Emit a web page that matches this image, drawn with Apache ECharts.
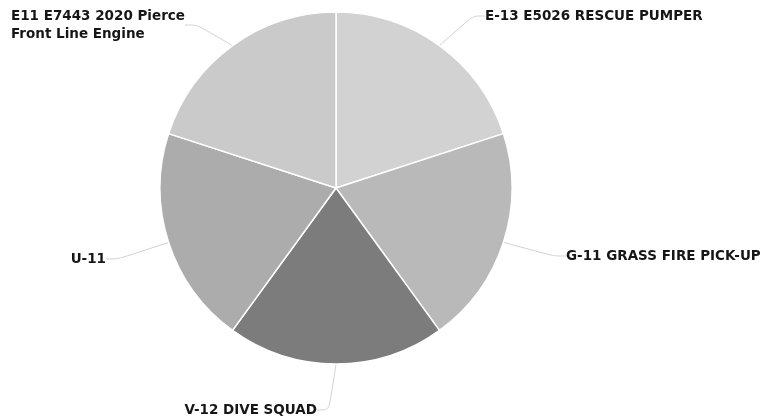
<!DOCTYPE html>
<html>
<head>
<meta charset="utf-8">
<script src="https://cdn.jsdelivr.net/npm/echarts@6/dist/echarts.min.js"></script>
<style>
  html, body { margin: 0; padding: 0; background: #ffffff; }
  #chart { width: 766px; height: 420px; }
</style>
</head>
<body>
<div id="chart"></div>
<script>
// Apparatus names, listed clockwise from 12 o'clock
const units = [
  'E-13 E5026 RESCUE PUMPER',
  'G-11 GRASS FIRE PICK-UP',
  'V-12 DIVE SQUAD',
  'U-11',
  'E11 E7443 2020 Pierce\nFront Line Engine'
];
// Each apparatus holds an equal share
const shares = [1, 1, 1, 1, 1];
// Slice fills
const fills = ['#d2d2d2', '#b9b9b9', '#7c7c7c', '#acacac', '#cacaca'];

// Where each label sits around the pie
const labelSpots = [
  { x: 485, y: 16, align: 'left' },
  { x: 566, y: 256, align: 'left' },
  { x: 317, y: 410, align: 'right' },
  { x: 106, y: 259, align: 'right' },
  { x: 11, y: 25, align: 'left' }
];

const chart = echarts.init(document.getElementById('chart'), null, { renderer: 'canvas' });

const data = units.map((name, i) => ({
  name: name,
  value: shares[i],
  itemStyle: { color: fills[i] }
}));

const textStyle = { fontFamily: 'DejaVu Sans', fontWeight: 'bold', fontSize: 13.5, color: '#161616' };

chart.setOption({
  backgroundColor: '#ffffff',
  animation: false,
  series: [{
    type: 'pie',
    center: [336, 188],
    radius: [0, 176],
    startAngle: 90,
    clockwise: true,
    data: data,
    itemStyle: { borderColor: '#ffffff', borderWidth: 1.5 },
    label: Object.assign({
      show: true,
      lineHeight: 18,
      formatter: p => p.name.split('\n').map(s => '{t|' + s + '}').join('\n'),
      rich: { t: Object.assign({ align: 'left', lineHeight: 18 }, textStyle) }
    }, textStyle),
    labelLine: {
      show: true,
      length: 30,
      length2: 12,
      smooth: 0.3,
      lineStyle: { color: '#d2d2d2', width: 1 }
    },
    labelLayout: p => Object.assign({ verticalAlign: 'middle' }, labelSpots[p.dataIndex])
  }]
});
</script>
</body>
</html>
